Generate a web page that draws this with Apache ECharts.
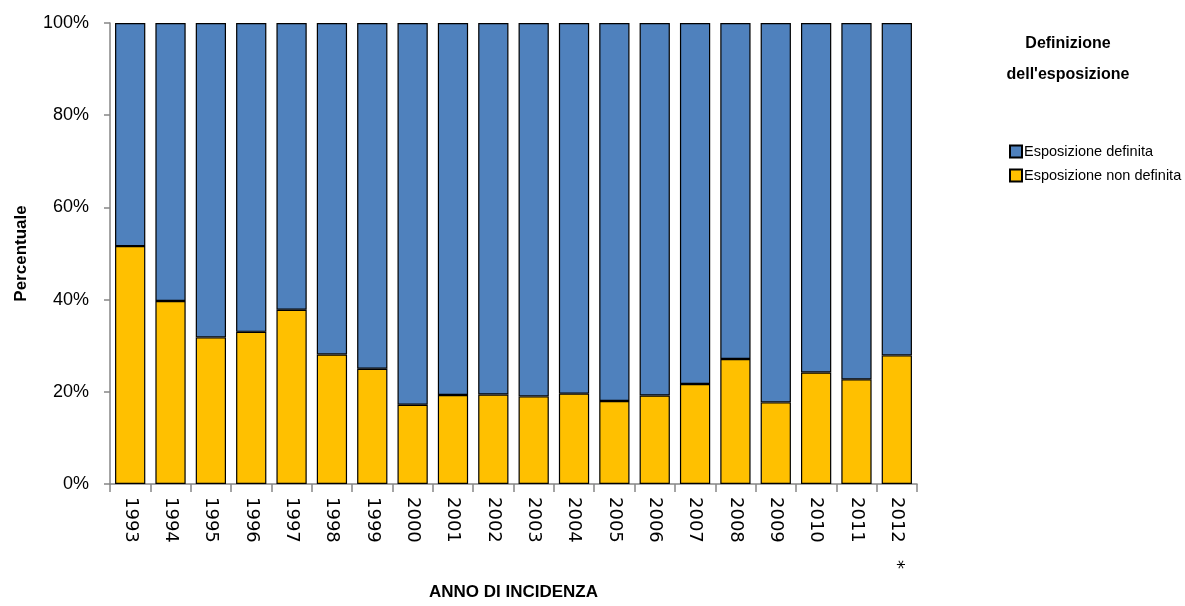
<!DOCTYPE html>
<html>
<head>
<meta charset="utf-8">
<script src="https://cdn.jsdelivr.net/npm/echarts@6/dist/echarts.min.js"></script>
<style>
  html, body { margin: 0; padding: 0; background: #fff; }
  #chart { width: 1185px; height: 606px; }
</style>
</head>
<body>
<div id="chart"></div>
<script>
// Anni di incidenza
const years = ['1993', '1994', '1995', '1996', '1997', '1998', '1999', '2000', '2001', '2002',
  '2003', '2004', '2005', '2006', '2007', '2008', '2009', '2010', '2011', '2012 *'];

// Quota percentuale per anno
const nonDefinita = [51.6, 39.7, 31.8, 33.0, 37.8, 28.1, 25.0, 17.2, 19.3, 19.4,
  19.0, 19.6, 18.0, 19.2, 21.7, 27.1, 17.7, 24.2, 22.7, 27.9];
const definita = [48.4, 60.3, 68.2, 67.0, 62.2, 71.9, 75.0, 82.8, 80.7, 80.6,
  81.0, 80.4, 82.0, 80.8, 78.3, 72.9, 82.3, 75.8, 77.3, 72.1];

const yTicks = { min: 0, max: 100, interval: 20 };

const font = '"Liberation Sans", Arial, sans-serif';
const axisGray = '#868686';

const chart = echarts.init(document.getElementById('chart'));
chart.setOption({
  animation: false,
  backgroundColor: '#ffffff',
  textStyle: { fontFamily: font, color: '#000' },
  grid: { left: 110, right: 268, top: 23, bottom: 122, containLabel: false, outerBoundsMode: 'none' },
  title: {
    text: "Definizione\ndell'esposizione",
    left: 1063,
    top: 23,
    textAlign: 'center',
    textStyle: { fontFamily: font, fontSize: 16, fontWeight: 'bold', color: '#000', lineHeight: 31 }
  },
  legend: {
    orient: 'vertical',
    left: 1004,
    top: 139,
    itemWidth: 12,
    itemHeight: 12,
    itemGap: 9,
    icon: 'rect',
    data: ['Esposizione definita', 'Esposizione non definita'],
    textStyle: { fontFamily: font, fontSize: 14.5, color: '#000', padding: [0, 0, 0, -3] }
  },
  xAxis: {
    type: 'category',
    data: years,
    name: 'ANNO DI INCIDENZA',
    nameLocation: 'middle',
    nameGap: 100,
    nameTextStyle: { fontFamily: font, fontSize: 17, fontWeight: 'bold', color: '#000' },
    axisLine: { lineStyle: { color: axisGray, width: 1.5 } },
    axisTick: { show: true, length: 8, lineStyle: { color: axisGray, width: 1.5 } },
    axisLabel: {
      rotate: -90,
      interval: 0,
      margin: 13,
      fontFamily: '"DejaVu Sans", sans-serif',
      fontSize: 18,
      color: '#000',
      formatter: (v) => v.replace(' ', '   ')
    }
  },
  yAxis: {
    type: 'value',
    min: yTicks.min,
    max: yTicks.max,
    interval: yTicks.interval,
    name: 'Percentuale',
    nameLocation: 'middle',
    nameGap: 80,
    nameTextStyle: { fontFamily: font, fontSize: 17, fontWeight: 'bold', color: '#000' },
    axisLine: { show: true, lineStyle: { color: axisGray, width: 1.5 } },
    axisTick: { show: true, length: 6, lineStyle: { color: axisGray, width: 1.5 } },
    splitLine: { show: false },
    axisLabel: {
      formatter: '{value}%',
      margin: 21,
      fontFamily: font,
      fontSize: 18,
      color: '#000'
    }
  },
  series: [
    {
      name: 'Esposizione non definita',
      type: 'bar',
      stack: 'tot',
      data: nonDefinita,
      barCategoryGap: '25%',
      itemStyle: { color: '#FFC000', borderColor: '#000', borderWidth: 1.2 }
    },
    {
      name: 'Esposizione definita',
      type: 'bar',
      stack: 'tot',
      data: definita,
      barCategoryGap: '25%',
      itemStyle: { color: '#4F81BD', borderColor: '#000', borderWidth: 1.2 }
    }
  ]
});
</script>
</body>
</html>
